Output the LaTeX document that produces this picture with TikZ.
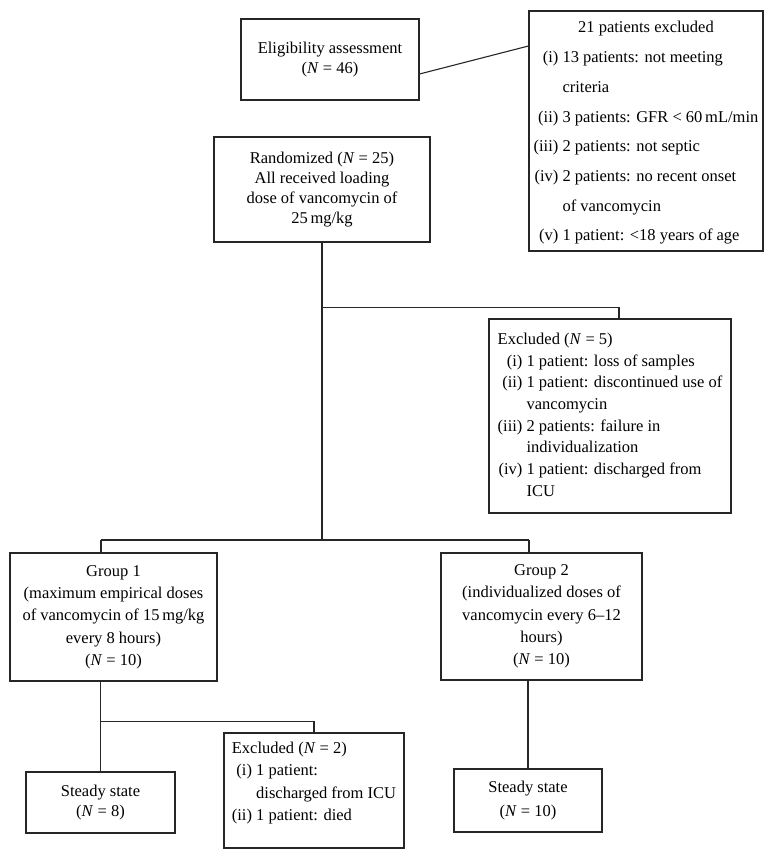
\documentclass[tikz,border=0pt]{standalone}
\usepackage{fontspec}
\setmainfont{Liberation Serif}
\usepackage{array}
\newcommand{\NN}{\textit{N}}
\begin{document}
\begin{tikzpicture}[x=1pt,y=-1pt,
  box/.style={draw=black!85, line width=1.1pt, inner sep=0pt, align=center,
    font=\fontsize{16.5}{20}\selectfont},
  txt/.style={inner sep=0pt, align=left, font=\fontsize{16.5}{20}\selectfont},
  wire/.style={draw=black!85, line width=1.1pt}]
\useasboundingbox (0,0) rectangle (768,859);

\node[box, minimum width=178pt, minimum height=81pt] (elig) at (330,59.5)
  {Eligibility assessment\\(\NN{} = 46)};

\node[box, minimum width=234pt, minimum height=240pt] (excl21) at (646,131)
  {\renewcommand\arraystretch{1.485}%
   \begin{tabular}{@{}r@{\ }l@{}}
   \multicolumn{2}{c}{21 patients excluded}\\
   (i) & 13 patients: not meeting\\
       & criteria\\
   (ii) & 3 patients: GFR < 60\,mL/min\\
   (iii) & 2 patients: not septic\\
   (iv) & 2 patients: no recent onset\\
        & of vancomycin\\
   (v) & 1 patient: <18 years of age
   \end{tabular}};

\node[box, minimum width=216pt, minimum height=105pt] (rand) at (322,189.5)
  {Randomized (\NN{} = 25)\\All received loading\\dose of vancomycin of\\25\,mg/kg};

\node[box, minimum width=242pt, minimum height=194pt] (excl5) at (610,416)
  {\renewcommand\arraystretch{1.085}%
   \begin{tabular}{@{}r@{\ }l@{}}
   \multicolumn{2}{@{}l}{Excluded (\NN{} = 5)}\\
   (i) & 1 patient: loss of samples\\
   (ii) & 1 patient: discontinued use of\\
        & vancomycin\\
   (iii) & 2 patients: failure in\\
         & individualization\\
   (iv) & 1 patient: discharged from\\
        & ICU
   \end{tabular}};

\node[box, font=\fontsize{16.5}{22.3}\selectfont, minimum width=207pt, minimum height=128pt] (g1) at (113.5,617)
  {Group 1\\(maximum empirical doses\\of vancomycin of 15\,mg/kg\\every 8 hours)\\(\NN{} = 10)};

\node[box, font=\fontsize{16.5}{22.3}\selectfont, minimum width=201pt, minimum height=127pt] (g2) at (541.5,616.5)
  {Group 2\\(individualized doses of\\vancomycin every 6--12\\hours)\\(\NN{} = 10)};

\node[box, minimum width=149pt, minimum height=61pt] (st1) at (100.5,802.5)
  {Steady state\\(\NN{} = 8)};

\node[box, font=\fontsize{16.5}{24}\selectfont, minimum width=148pt, minimum height=63pt] (st2) at (528,800.5)
  {Steady state\\(\NN{} = 10)};

\node[box, minimum width=180pt, minimum height=115pt] (excl2) at (314,790.5) {};
\node[txt] (excl2t) at ([yshift=8pt]excl2.center)
  {\renewcommand\arraystretch{1.115}%
   \begin{tabular}{@{}r@{\ }l@{}}
   \multicolumn{2}{@{}l}{Excluded (\NN{} = 2)}\\
   (i) & 1 patient:\\
       & discharged from ICU\\
   (ii) & 1 patient: died
   \end{tabular}};

% connectors
\draw[wire] ([yshift=-14.5pt]elig.east) -- ([yshift=85pt]excl21.west);
\coordinate (busL) at (101,540);
\coordinate (busR) at (529,540);
\draw[wire] (rand.south) -- (rand.south |- busL);
\draw[wire] ([yshift=-65pt]rand.south) -| ([xshift=9pt]excl5.north);
\draw[wire] (busL) -- (busR);
\draw[wire] (busL) -- (busL |- g1.north);
\draw[wire] (busR) -- (busR |- g2.north);
\draw[wire] (st1.north |- g1.south) -- (st1.north);
\draw[wire] (st1.north |- g1.south) ++(0,40) -| (excl2.north);
\draw[wire] (st2.north |- g2.south) -- (st2.north);
\end{tikzpicture}
\end{document}
